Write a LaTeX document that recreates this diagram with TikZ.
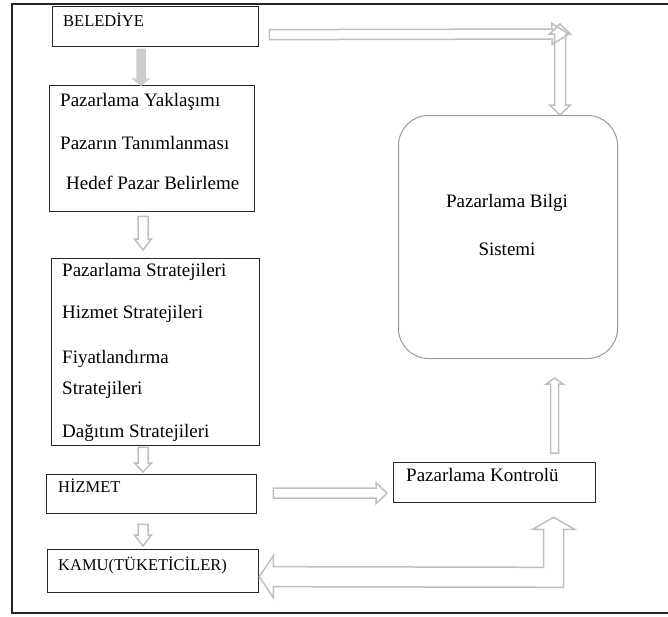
\documentclass[tikz,border=0pt]{standalone}
\usepackage{fontspec}
\setmainfont{Liberation Serif}
\usetikzlibrary{calc}

\begin{document}
\begin{tikzpicture}[x=1pt, y=-1pt,
    box/.style={draw=black!85, line width=1.3pt, anchor=north west, inner sep=0pt},
    txt/.style={anchor=base west, inner sep=0pt, font=\fontsize{19}{23}\selectfont},
    captxt/.style={txt, font=\fontsize{16.5}{20}\selectfont},
    shaftw/.code={\def\ashaft{#1}},
    headw/.code={\def\ahw{#1}},
    headl/.code={\def\ahl{#1}},
    hollowline/.style={draw=black!25, line width=1.5pt, line join=miter},
    hollow/.style={hollowline, shaftw=5pt, headw=8.5pt, headl=11pt,
        to path={($(\tikztostart)!\ashaft!90:(\tikztotarget)$)
            -- ($(\tikztotarget)!\ahl!(\tikztostart)!\ashaft!90:(\tikztotarget)$)
            -- ($(\tikztotarget)!\ahl!(\tikztostart)!\ahw!90:(\tikztotarget)$)
            -- (\tikztotarget)
            -- ($(\tikztotarget)!\ahl!(\tikztostart)!\ahw!-90:(\tikztotarget)$)
            -- ($(\tikztotarget)!\ahl!(\tikztostart)!\ashaft!-90:(\tikztotarget)$)
            -- ($(\tikztostart)!\ashaft!-90:(\tikztotarget)$) -- cycle}},
    hollowtwo/.style={hollowline, shaftw=5pt, headw=8.5pt, headl=11pt,
        to path={(\tikztostart)
            -- ($(\tikztostart)!\ahl!(\tikztotarget)!\ahw!90:(\tikztotarget)$)
            -- ($(\tikztostart)!\ahl!(\tikztotarget)!\ashaft!90:(\tikztotarget)$)
            -- ($(\tikztotarget)!\ahl!(\tikztostart)!\ashaft!90:(\tikztotarget)$)
            -- ($(\tikztotarget)!\ahl!(\tikztostart)!\ahw!90:(\tikztotarget)$)
            -- (\tikztotarget)
            -- ($(\tikztotarget)!\ahl!(\tikztostart)!\ahw!-90:(\tikztotarget)$)
            -- ($(\tikztotarget)!\ahl!(\tikztostart)!\ashaft!-90:(\tikztotarget)$)
            -- ($(\tikztostart)!\ahl!(\tikztotarget)!\ashaft!-90:(\tikztotarget)$)
            -- ($(\tikztostart)!\ahl!(\tikztotarget)!\ahw!-90:(\tikztotarget)$) -- cycle}},
    solidarrow/.style={hollow, fill=black!20, draw=black!20, shaftw=4pt, headw=7.5pt, headl=6pt}
]
\useasboundingbox (0,0) rectangle (668,616);

% Frame
\draw[black!85, line width=1.3pt] (668,4) -- (12,4) -- (12,613) -- (668,613);

% Boxes
\node[box, minimum width=206pt, minimum height=40pt] (bel) at (52,6) {};
\node[box, minimum width=205pt, minimum height=126pt] (yak) at (49,85) {};
\node[box, minimum width=208pt, minimum height=187pt] (str) at (51,258) {};
\node[box, minimum width=210pt, minimum height=39pt] (hiz) at (46,474) {};
\node[box, minimum width=211pt, minimum height=43pt] (kamu) at (47,549) {};
\node[box, minimum width=202pt, minimum height=40pt] (kon) at (393,462) {};
\node[box, draw=black!40, line width=1pt, rounded corners=30pt,
      minimum width=219pt, minimum height=243pt] (pb) at (398,115) {};

% Labels
\node[captxt] (belt) at (63,26) {BELEDİYE};
\node[txt] (yak1) at (60,106) {Pazarlama Yaklaşımı};
\node[txt] (yak2) at (60,149) {Pazarın Tanımlanması};
\node[txt] (yak3) at (66,189) {Hedef Pazar Belirleme};
\node[txt] (str1) at (62,276) {Pazarlama Stratejileri};
\node[txt] (str2) at (62,318) {Hizmet Stratejileri};
\node[txt] (str3) at (62,363) {Fiyatlandırma};
\node[txt] (str4) at (62,394) {Stratejileri};
\node[txt] (str5) at (62,437) {Dağıtım Stratejileri};
\node[captxt] (hizt) at (58,492) {HİZMET};
\node[captxt] (kamut) at (58,570) {KAMU(TÜKETİCİLER)};
\node[txt] (kont) at (406,481) {Pazarlama Kontrolü};
\node[txt, anchor=base] (pb1) at (507,207) {Pazarlama Bilgi};
\node[txt, anchor=base] (pb2) at (507,255) {Sistemi};

% Arrow ends
\coordinate (col) at (143,0);
\coordinate (c1) at ($(bel.south -| col)+(-2,2)$);
\coordinate (c2) at ($(yak.north -| col)+(-2,0)$);
\coordinate (c3) at ($(yak.south -| col)+(0,4)$);
\coordinate (c4) at ($(str.north -| col)+(0,-8)$);
\coordinate (c5) at ($(str.south -| col)+(0,1)$);
\coordinate (c6) at ($(hiz.north -| col)+(0,-2)$);
\coordinate (c7) at ($(hiz.south -| col)+(0,10)$);
\coordinate (c8) at ($(kamu.north -| col)+(0,-3)$);
\coordinate (h1) at ($(bel.east)+(10,8)$);
\coordinate (hub) at (569,34);
\coordinate (vtop) at (560,24);
\coordinate (vbot) at (pb.north -| vtop);
\coordinate (k1) at ($(hiz.east)+(16,-1)$);
\coordinate (k2) at ($(k1 -| kon.west)+(-6,0)$);
\coordinate (u1) at ($(kon.north)+(60,-9)$);
\coordinate (u2) at ($(u1 |- pb.south)+(0,19)$);
\coordinate (b1) at ($(kamu.east)+(0,5.5)$);
\coordinate (b2) at ($(kon.south)+(59,14)$);

% Arrows
\draw[solidarrow] (c1) to (c2);
\draw[hollow] (c3) to (c4);
\draw[hollow, headl=9pt] (c5) to (c6);
\draw[hollow] (c7) to (c8);
\draw[hollow, headw=10.5pt, headl=17pt] (h1) to (hub);
\draw[hollowtwo, shaftw=5.5pt, headw=10.5pt, headl=10pt] (vtop) to (vbot);
\draw[hollow, headw=10.5pt] (k1) to (k2);
\draw[hollow, shaftw=4pt, headl=6pt] (u1) to (u2);
\draw[hollowline] (b1) -- ++(14,-21) -- ++(0,11) -- ($(b2)+(-10,50)$)
    -- ($(b2)+(-10,12)$) -- ($(b2)+(-21,12)$) -- (b2) -- ($(b2)+(21,12)$)
    -- ($(b2)+(10,12)$) -- ($(b2)+(10,70)$) -- ($(b1)+(14,10)$) -- ++(0,11) -- cycle;
\end{tikzpicture}
\end{document}
